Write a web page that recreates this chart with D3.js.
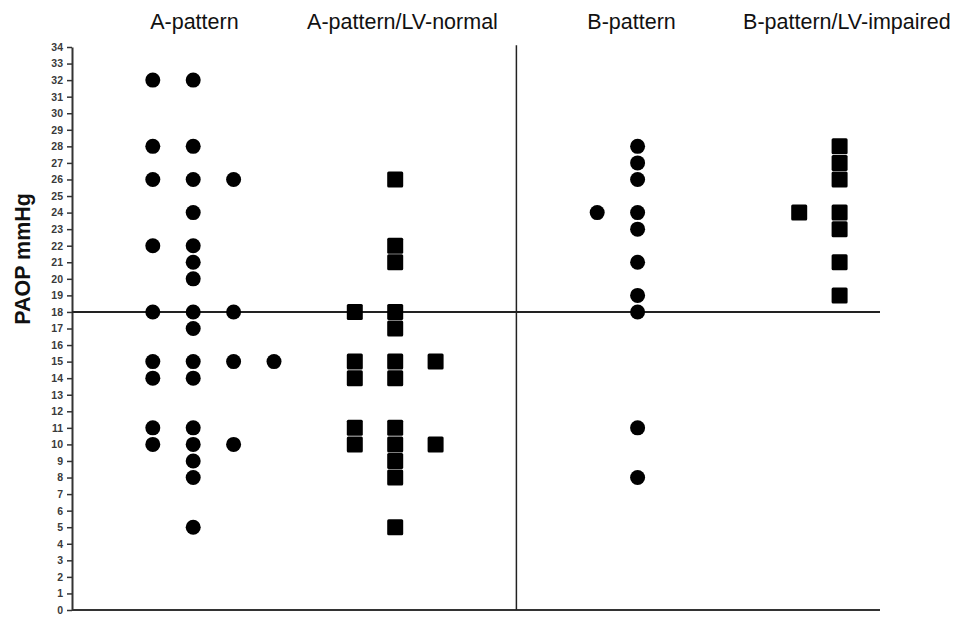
<!DOCTYPE html>
<html>
<head>
<meta charset="utf-8">
<script src="https://cdn.jsdelivr.net/npm/d3@7"></script>
<style>
  body { margin: 0; background: #fff; }
  svg { display: block; font-family: Arial, "Liberation Sans", sans-serif; }
</style>
</head>
<body>
<svg width="956" height="618"></svg>
<script>
// PAOP (mmHg) per patient, one array per dot column
var groups = ['A-pattern', 'A-pattern/LV-normal', 'B-pattern', 'B-pattern/LV-impaired']

var aPattern = [
  [32, 28, 26, 22, 18, 15, 14, 11, 10],
  [32, 28, 26, 24, 22, 21, 20, 18, 17, 15, 14, 11, 10, 9, 8, 5],
  [26, 18, 15, 10],
  [15]
]
var aPatternLvNormal = [
  [18, 15, 14, 11, 10],
  [26, 22, 21, 18, 17, 15, 14, 11, 10, 9, 8, 5],
  [15, 10]
]
var bPattern = [
  [24],
  [28, 27, 26, 24, 23, 21, 19, 18, 11, 8]
]
var bPatternLvImpaired = [
  [24],
  [28, 27, 26, 24, 23, 21, 19]
]

var yTicks = d3.range(0, 35)
var cutoff = 18

// layout: first dot column of each group, and label centre (in column units)
var series = [
  { name: groups[0], cols: aPattern, start: 0, label: 1.03, shape: 'circle' },
  { name: groups[1], cols: aPatternLvNormal, start: 5, label: 6.18, shape: 'square' },
  { name: groups[2], cols: bPattern, start: 11, label: 11.85, shape: 'circle' },
  { name: groups[3], cols: bPatternLvImpaired, start: 16, label: 17.18, shape: 'square' }
]

var svg = d3.select('svg')

var x = d3.scaleLinear().domain([-2, 18]).range([72, 880])
var y = d3.scaleLinear().domain([0, 34]).range([610, 47])

var points = []
series.forEach(s => {
  s.cols.forEach((col, i) => {
    col.forEach(v => points.push({ col: s.start + i, value: v, shape: s.shape }))
  })
})

// axes
var yAxis = svg.append('g')
  .attr('transform', `translate(${x(-2)},0)`)
  .call(d3.axisLeft(y).tickValues(yTicks).tickSize(5).tickPadding(4).tickSizeOuter(0))

yAxis.select('.domain').attr('stroke', '#333').attr('stroke-width', 2)
yAxis.selectAll('.tick line').attr('stroke', '#333').attr('stroke-width', 1.5)
yAxis.selectAll('.tick text')
  .attr('font-size', 10.5)
  .attr('font-weight', 'bold')
  .attr('fill', '#3a3a3a')
  .attr('font-family', 'Arial, "Liberation Sans", sans-serif')

svg.append('line')
  .attr('x1', x(-2)).attr('x2', x(18))
  .attr('y1', y(0)).attr('y2', y(0))
  .attr('stroke', '#333').attr('stroke-width', 2)

// reference lines
svg.append('line')
  .attr('x1', x(-2)).attr('x2', x(18))
  .attr('y1', y(cutoff)).attr('y2', y(cutoff))
  .attr('stroke', '#222').attr('stroke-width', 2)

svg.append('line')
  .attr('x1', x(9)).attr('x2', x(9))
  .attr('y1', y(34.1)).attr('y2', y(0))
  .attr('stroke', '#222').attr('stroke-width', 1.5)

// marks
svg.append('g').selectAll('circle')
  .data(points.filter(d => d.shape === 'circle'))
  .enter().append('circle')
  .attr('cx', d => x(d.col))
  .attr('cy', d => y(d.value))
  .attr('r', 7.5)
  .attr('fill', '#000')

var sq = 16
svg.append('g').selectAll('rect')
  .data(points.filter(d => d.shape === 'square'))
  .enter().append('rect')
  .attr('x', d => x(d.col) - sq / 2)
  .attr('y', d => y(d.value) - sq / 2)
  .attr('width', sq)
  .attr('height', sq)
  .attr('rx', 1.5)
  .attr('fill', '#000')

// labels
svg.append('g').selectAll('text')
  .data(series)
  .enter().append('text')
  .attr('x', d => x(d.label))
  .attr('y', 29)
  .attr('text-anchor', 'middle')
  .attr('font-size', 21.5)
  .attr('fill', '#111')
  .text(d => d.name)

svg.append('text')
  .attr('transform', `translate(30,${y(21.2)}) rotate(-90)`)
  .attr('text-anchor', 'middle')
  .attr('font-size', 21.5)
  .attr('font-weight', 'bold')
  .attr('fill', '#111')
  .text('PAOP mmHg')
</script>
</body>
</html>
